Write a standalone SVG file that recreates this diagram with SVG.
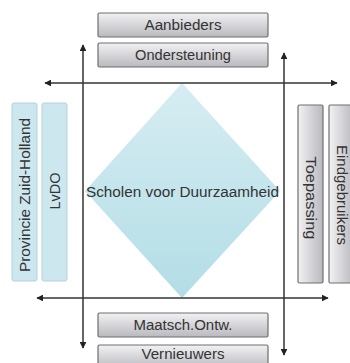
<svg xmlns="http://www.w3.org/2000/svg" width="350" height="363" viewBox="0 0 350 363">
<style>
.gbox{fill:url(#gray);stroke:#6e6e72;stroke-width:1.2}
.gv{fill:url(#grayv);stroke:#6e6e72;stroke-width:1.2}
.bbox{fill:#cde7ee;stroke:#b2d3dc;stroke-width:1}
.t{font-family:"Liberation Sans",Arial,sans-serif;font-size:14px;fill:#333;text-anchor:middle}
.c{stroke:#333;stroke-width:1.5;fill:none}
</style>
<defs>
<linearGradient id="gray" x1="0" y1="0" x2="0" y2="1">
<stop offset="0" stop-color="#f2f2f4"/>
<stop offset="1" stop-color="#b9b9be"/>
</linearGradient>
<linearGradient id="grayv" x1="0" y1="0" x2="1" y2="0">
<stop offset="0" stop-color="#f2f2f4"/>
<stop offset="1" stop-color="#b9b9be"/>
</linearGradient>
<linearGradient id="dia" x1="0" y1="0" x2="0" y2="1">
<stop offset="0" stop-color="#d6edf2"/>
<stop offset="1" stop-color="#b3dde6"/>
</linearGradient>
<marker id="ah" viewBox="0 0 10 10" refX="9" refY="5" markerWidth="4.5" markerHeight="4.5" orient="auto-start-reverse">
<path d="M0,0 L10,5 L0,10 z" fill="#222"/>
</marker>
</defs>
<g id="diamond">
<polygon points="182,83 280,191 182,298 85,191" fill="url(#dia)"/>
<text class="t" x="182.5" y="197" font-size="15" textLength="193" lengthAdjust="spacingAndGlyphs">Scholen voor Duurzaamheid</text>
</g>
<g id="connectors">
<line class="c" x1="45" y1="83" x2="337" y2="83" marker-start="url(#ah)" marker-end="url(#ah)"/>
<line class="c" x1="37" y1="298" x2="328" y2="298" marker-start="url(#ah)" marker-end="url(#ah)"/>
<line class="c" x1="83" y1="45" x2="83" y2="348" marker-start="url(#ah)" marker-end="url(#ah)"/>
<line class="c" x1="284" y1="53" x2="284" y2="355" marker-start="url(#ah)" marker-end="url(#ah)"/>
</g>
<g id="aanbieders">
<rect class="gbox" x="98" y="13" width="170" height="24" rx="1.5"/>
<text class="t" x="183" y="30" textLength="77" lengthAdjust="spacingAndGlyphs">Aanbieders</text>
</g>
<g id="ondersteuning">
<rect class="gbox" x="98" y="43" width="170" height="24" rx="1.5"/>
<text class="t" x="183" y="60" textLength="96" lengthAdjust="spacingAndGlyphs">Ondersteuning</text>
</g>
<g id="maatsch">
<rect class="gbox" x="98" y="313" width="170" height="24" rx="1.5"/>
<text class="t" x="183" y="330" textLength="99" lengthAdjust="spacingAndGlyphs">Maatsch.Ontw.</text>
</g>
<g id="vernieuwers">
<rect class="gbox" x="98" y="345" width="170" height="24" rx="1.5"/>
<text class="t" x="183" y="359" font-size="13" textLength="83" lengthAdjust="spacingAndGlyphs">Vernieuwers</text>
</g>
<g id="provincie">
<rect class="bbox" x="12" y="103" width="25" height="178" rx="2"/>
<text class="t" transform="translate(29.5,195) rotate(-90)" x="0" y="0" textLength="154" lengthAdjust="spacingAndGlyphs">Provincie Zuid-Holland</text>
</g>
<g id="lvdo">
<rect class="bbox" x="42" y="103" width="25" height="178" rx="2"/>
<text class="t" transform="translate(59.5,191) rotate(-90)" x="0" y="0" textLength="37" lengthAdjust="spacingAndGlyphs">LvDO</text>
</g>
<g id="toepassing">
<rect class="gv" x="298" y="105" width="25" height="178" rx="1.5"/>
<text class="t" transform="translate(305.5,198) rotate(90)" x="0" y="0" textLength="83" lengthAdjust="spacingAndGlyphs">Toepassing</text>
</g>
<g id="eindgebruikers">
<rect class="gv" x="329" y="105" width="25" height="178" rx="1.5"/>
<text class="t" transform="translate(336.5,195) rotate(90)" x="0" y="0" textLength="100" lengthAdjust="spacingAndGlyphs">Eindgebruikers</text>
</g>
</svg>
